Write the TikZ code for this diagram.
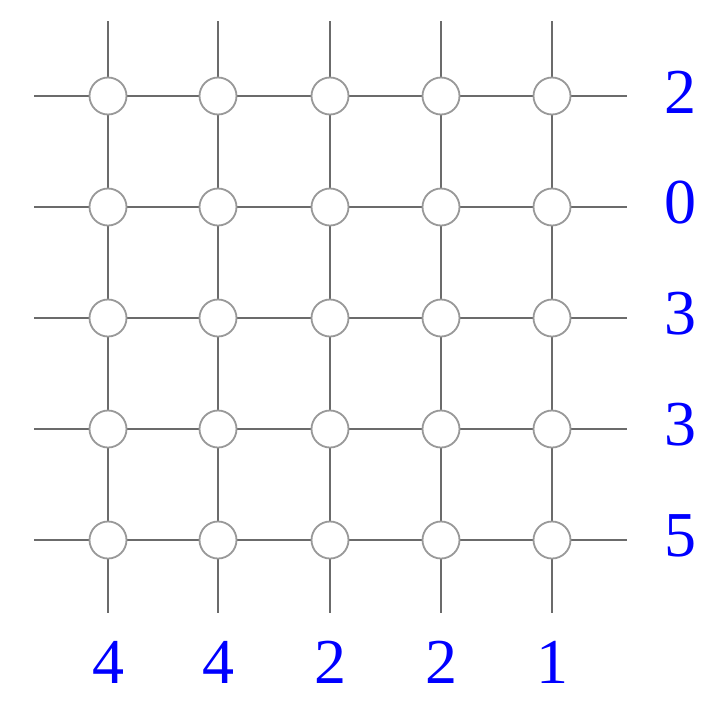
\documentclass[tikz,border=0pt]{standalone}
\usepackage{fontspec}
\setmainfont{Liberation Serif}
\begin{document}
\begin{tikzpicture}[x=1pt,y=-1pt,
  gridline/.style={draw=black!58,line width=2.4pt},
  site/.style={circle,draw=black!40,fill=white,line width=1.8pt,minimum size=37pt,inner sep=0pt},
  lab/.style={text=blue,font=\fontsize{64}{70}\selectfont,inner sep=0pt,anchor=center}]
\useasboundingbox (0,0) rectangle (704,705);
\fill[white] (0,0) rectangle (704,705);
\foreach \i/\x in {1/108,2/218,3/330,4/441,5/552}{
  \coordinate (t\i) at (\x,21);
  \coordinate (b\i) at (\x,613);
}
\foreach \j/\y in {1/96,2/207,3/318,4/429,5/540}{
  \coordinate (l\j) at (34,\y);
  \coordinate (r\j) at (627,\y);
}
\foreach \i in {1,...,5}{
  \draw[gridline] (t\i) -- (b\i);
  \draw[gridline] (l\i) -- (r\i);
}
\foreach \i/\x in {1/108,2/218,3/330,4/441,5/552}{
  \foreach \j/\y in {1/96,2/207,3/318,4/429,5/540}{
    \node[site] (n\i\j) at (\x,\y) {};
  }
}
\foreach \j/\y/\v in {1/96/2,2/207/0,3/318/3,4/429/3,5/540/5}{
  \node[lab] (rl\j) at (680,\y-4) {\v};
}
\foreach \i/\x/\v in {1/108/4,2/218/4,3/330/2,4/441/2,5/552/1}{
  \node[lab] (bl\i) at (\x,662) {\v};
}
\end{tikzpicture}
\end{document}
